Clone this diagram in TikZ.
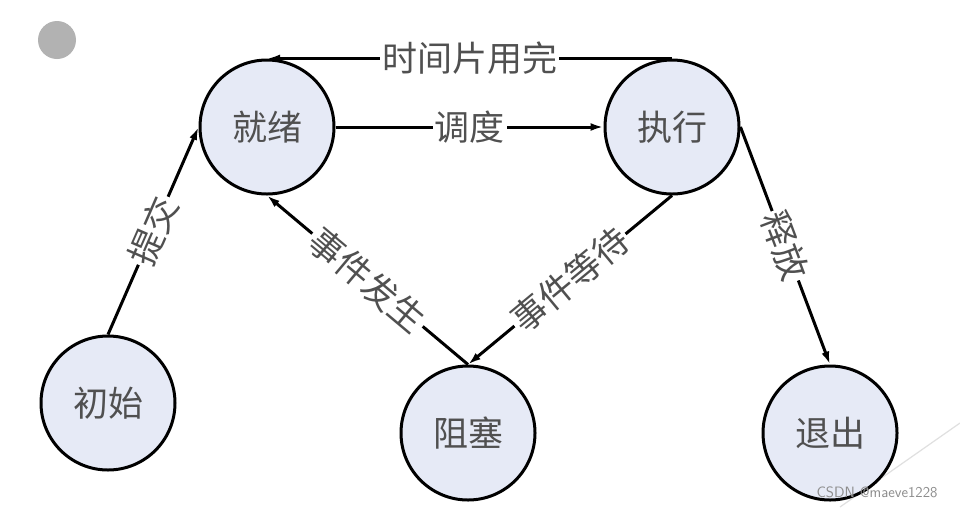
\documentclass[tikz,border=0pt]{standalone}
\usepackage{fontspec}
\newfontfamily\cjk{Noto Sans CJK SC}
\usetikzlibrary{arrows.meta}
\definecolor{statefill}{HTML}{E6EAF6}
\definecolor{txtgrey}{HTML}{505050}
\begin{document}
\begin{tikzpicture}[x=1pt,y=-1pt,
  state/.style={circle,draw=black,line width=3pt,fill=statefill,minimum size=134pt,inner sep=0pt,
    font=\cjk\fontsize{35}{38}\selectfont,text=txtgrey},
  conn/.style={line width=3pt,-{Latex[length=13pt,width=8pt]}},
  lbl/.style={fill=white,inner sep=2pt,font=\cjk\fontsize{35}{38}\selectfont,text=txtgrey}]
\useasboundingbox (0,0) rectangle (960,507);
\fill[white] (0,0) rectangle (960,507);
\fill[black!30] (57,40) circle (19);
\coordinate (wa) at (960,423);
\coordinate (wb) at (840,507);
\draw[black!12,line width=1.2pt] (wa) -- (wb);
\node[state] (ready) at (267,127) {就绪};
\node[state] (run) at (672,127) {执行};
\node[state] (init) at (108,403) {初始};
\node[state] (block) at (468,433) {阻塞};
\node[state] (exit) at (830,433) {退出};
\draw[conn] (run.north) -- node[lbl] {时间片用完} (ready.north);
\draw[conn] (ready.east) -- node[lbl] {调度} (run.west);
\draw[conn] (init.north) -- node[lbl,sloped] {提交} (ready.west);
\draw[conn] (block.north) -- node[lbl,sloped] {事件发生} (ready.south);
\draw[conn] (run.south) -- node[lbl,sloped] {事件等待} (block.north);
\draw[conn] (run.east) -- node[lbl,sloped] {释放} (exit.north);
\node[font=\sffamily\fontsize{15}{16}\selectfont,text=black!45] (wm) at (877,492) {CSDN @maeve1228};
\end{tikzpicture}
\end{document}
